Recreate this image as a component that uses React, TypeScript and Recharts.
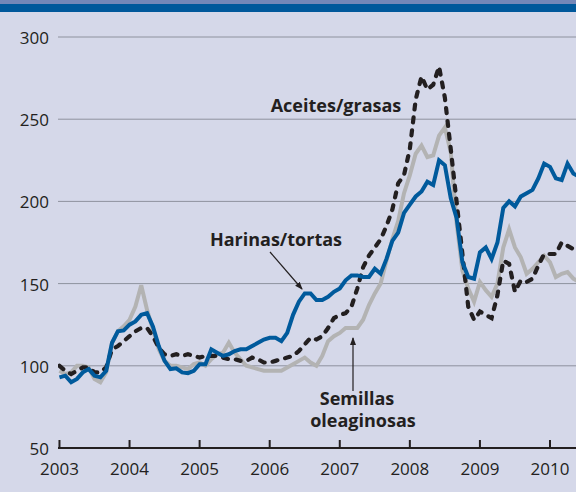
import { LineChart, Line, XAxis, YAxis, CartesianGrid } from "recharts";

// monthly index values, Jan 2003 .. Jun 2010 (2004-06 = 100 style index)
const harinas = [
  93, 94, 90, 92, 96, 98, 94, 93, 97, 114, 121, 121.5,
  125, 127, 131, 132, 124, 112, 103, 98, 98.5, 96, 95.5, 97,
  101, 101, 110, 108, 106, 107, 109, 110, 110, 112, 114, 116,
  117, 117, 115, 120, 131, 139, 144, 144, 140, 140, 142, 145,
  147, 152, 155, 155, 154, 154, 159, 156, 165, 176, 181, 193,
  198, 203, 206, 212, 210, 225, 222, 202, 190, 163, 154, 153,
  169, 172, 165, 175, 196, 200, 197, 203, 205, 207, 214, 223,
  221, 214, 213, 223, 217, 215,
];

const aceites = [
  100, 97, 95, 97, 99, 99, 96, 96, 99, 110, 112, 115,
  118, 121, 123, 123, 118, 111, 107, 106, 107, 106, 107, 106,
  105, 106, 106, 106, 105, 104, 104, 103, 103, 105, 104, 102,
  102, 103, 104, 105, 106, 109, 113, 117, 116, 118, 123, 129,
  131, 132, 136, 147, 160, 167, 172, 177, 185, 195, 211, 216,
  232, 262, 276, 268, 271, 282, 263, 232, 200, 168, 136, 128,
  133, 131, 129, 143, 164, 162, 145, 152, 151, 153, 161, 168,
  168, 168, 175, 173, 171, 169,
];

const semillas = [
  97, 95, 96, 100, 100, 99, 92, 90, 96, 114, 121, 124,
  128, 136, 149, 134, 122, 110, 103, 100, 100, 99, 98, 101,
  102, 100, 104, 107, 108, 114, 108, 104, 100, 99, 98, 97,
  97, 97, 97, 99, 101, 103, 105, 102, 100, 106, 115, 118,
  120, 123, 123, 123, 128, 137, 144, 150, 164, 177, 188, 205,
  216, 229, 234, 227, 228, 240, 245, 230, 187, 158, 147, 139,
  151, 146, 142, 150, 172, 183, 172, 166, 156, 159, 163, 167,
  163, 154, 156, 157, 153, 151,
];

const years = [2003, 2004, 2005, 2006, 2007, 2008, 2009, 2010];
const yTicks = [50, 100, 150, 200, 250, 300];

const data = harinas.map((h, i) => ({
  t: 2003 + i / 12,
  harinas: h,
  aceites: aceites[i],
  semillas: semillas[i],
}));

const FONT = "'Open Sans', 'DejaVu Sans', sans-serif";
const INK = "#231f20";

const YearTick = (props: any) => {
  const { x, y, payload } = props;
  return (
    <g>
      <line x1={x} x2={x} y1={y - 8} y2={y} stroke={INK} strokeWidth={2} />
      <text x={x} y={y + 27} textAnchor="middle" fontSize={17} fill={INK} fontFamily={FONT}>
        {payload.value}
      </text>
    </g>
  );
};

const ValueTick = (props: any) => {
  const { x, y, payload } = props;
  return (
    <text x={x} y={y + 7} textAnchor="end" fontSize={17} fill={INK} fontFamily={FONT}>
      {payload.value}
    </text>
  );
};

export default function App() {
  return (
    <div style={{ position: "absolute", left: 0, top: 0, width: 576, height: 492, background: "#d5d8e9", overflow: "hidden" }}>
      <div style={{ position: "absolute", left: 0, top: 0, width: 576, height: 4, background: "#7487b8" }} />
      <div style={{ position: "absolute", left: 0, top: 4, width: 576, height: 8, background: "#00589b" }} />

      <LineChart width={576} height={492} data={data} margin={{ top: 37, right: 0, bottom: 14, left: 0 }}>
        <CartesianGrid vertical={false} stroke="#8e929e" strokeWidth={1} />
        <XAxis
          type="number"
          dataKey="t"
          domain={[2002.979, 2010.371]}
          ticks={years}
          allowDataOverflow
          height={30}
          tickSize={0}
          tickMargin={0}
          tickLine={false}
          axisLine={{ stroke: INK, strokeWidth: 2 }}
          tick={<YearTick />}
          interval={0}
        />
        <YAxis
          domain={[50, 300]}
          ticks={yTicks}
          width={58}
          tickSize={0}
          tickMargin={9}
          tickLine={false}
          axisLine={false}
          tick={<ValueTick />}
          interval={0}
        />
        <Line type="linear" dataKey="semillas" stroke="#b3b3b3" strokeWidth={4} dot={false} isAnimationActive={false} />
        <Line
          type="linear"
          dataKey="aceites"
          stroke={INK}
          strokeWidth={4.2}
          strokeDasharray="5 8"
          strokeLinecap="round"
          dot={false}
          isAnimationActive={false}
        />
        <Line type="linear" dataKey="harinas" stroke="#005a9c" strokeWidth={4} dot={false} isAnimationActive={false} />
      </LineChart>

      <svg width={576} height={492} style={{ position: "absolute", left: 0, top: 0, pointerEvents: "none" }}>
        <defs>
          <marker id="arr" markerWidth="8" markerHeight="8" refX="7" refY="4" orient="auto" markerUnits="userSpaceOnUse">
            <path d="M0,1 L8,4 L0,7 Z" fill={INK} />
          </marker>
        </defs>
        <g fontFamily={FONT} fontWeight="bold" fontSize={18} fill={INK} textAnchor="middle">
          <text x={336} y={112}>Aceites/grasas</text>
          <text x={276} y={246}>Harinas/tortas</text>
          <text x={357} y={405}>Semillas</text>
          <text x={363} y={427}>oleaginosas</text>
        </g>
        <line x1={270} y1={252} x2={302} y2={289} stroke={INK} strokeWidth={1.2} markerEnd="url(#arr)" />
        <line x1={353} y1={391} x2={353} y2={338} stroke={INK} strokeWidth={1.2} markerEnd="url(#arr)" />
      </svg>
    </div>
  );
}
